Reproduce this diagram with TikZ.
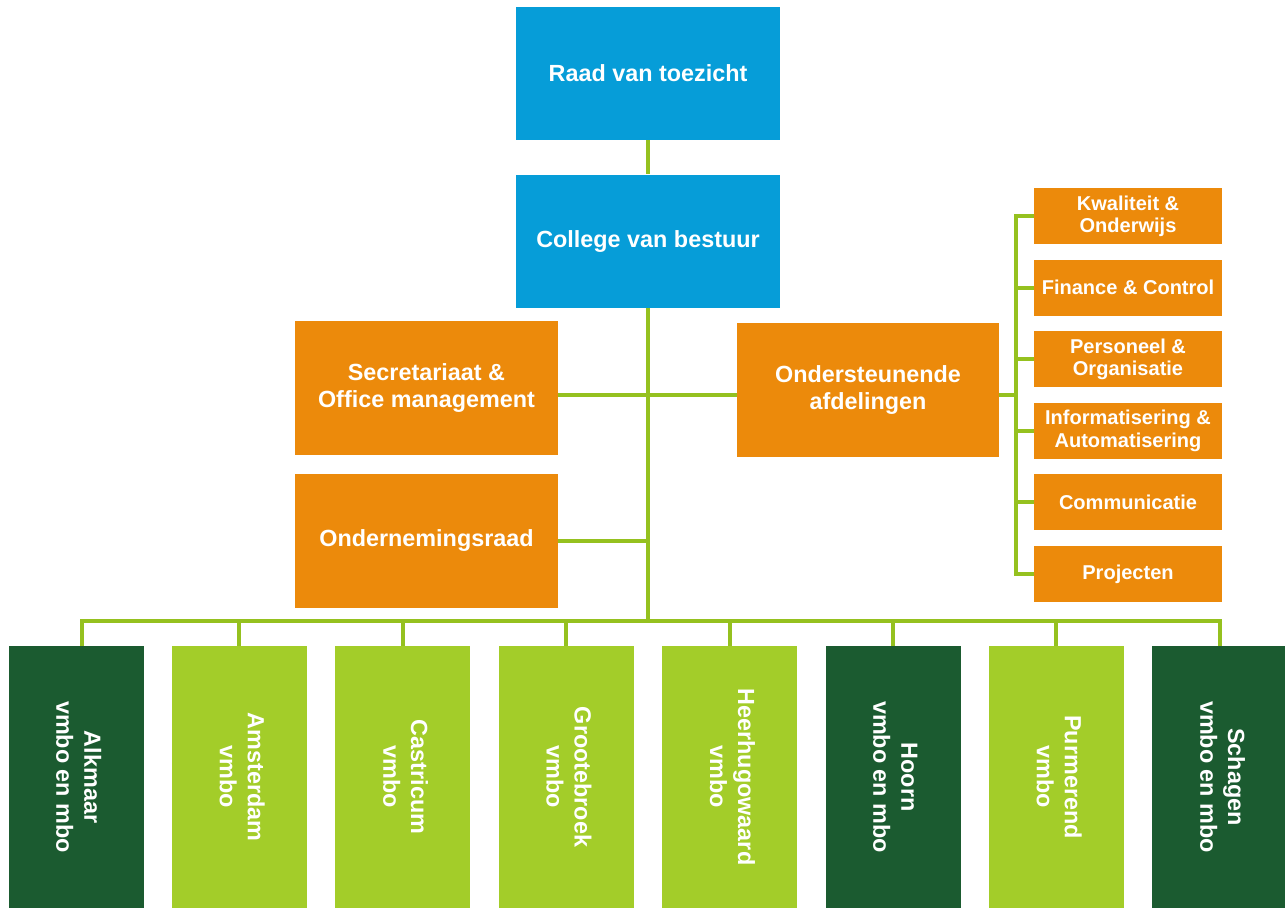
\documentclass[tikz,border=0pt]{standalone}
\usepackage{fontspec}
\setmainfont{Liberation Sans}
\usetikzlibrary{positioning}
\definecolor{raadblue}{HTML}{069DD8}
\definecolor{afdorange}{HTML}{EC8A0B}
\definecolor{vmbogreen}{HTML}{A3CD29}
\definecolor{mbogreen}{HTML}{1B5B30}
\definecolor{linegreen}{HTML}{95C11F}
\newcommand{\vtext}[1]{\rotatebox{-90}{\begin{tabular}{@{}c@{}}#1\end{tabular}}}

\begin{document}
\begin{tikzpicture}[font=\bfseries\fontsize{13.3}{15.9}\selectfont,text=white,
        bl/.style={fill=raadblue,minimum width=5.28cm,minimum height=2.66cm,align=center},
        or/.style={fill=afdorange,minimum width=5.26cm,minimum height=2.68cm,align=center},
        sm/.style={fill=afdorange,minimum width=3.76cm,minimum height=1.12cm,inner sep=1pt,align=center,
          font=\bfseries\fontsize{11.4}{12.6}\selectfont},
        lg/.style={fill=vmbogreen,minimum width=2.7cm,minimum height=5.24cm},
        dg/.style={fill=mbogreen,minimum width=2.7cm,minimum height=5.24cm},
        ln/.style={draw=linegreen,line width=2.3pt}]
        \useasboundingbox (0,0) rectangle (25.7,-18.16);
        % top
        \node[bl] (rvt) at (12.96,-1.47) {Raad van toezicht};
        \node[bl,below=0.68cm of rvt] (cvb) {College van bestuur};
        % staff
        \node[or] (som) at (8.53,-7.76) {Secretariaat \&\\Office management};
        \node[or,below=0.36cm of som] (onr) {Ondernemingsraad};
        \node[or,minimum width=5.24cm] (ond) at (17.36,-7.8) {Ondersteunende\\afdelingen};
        % afdelingen
        \node[sm] (kwo) at (22.56,-4.32) {Kwaliteit \&\\Onderwijs};
        \node[sm,below=0.298cm of kwo] (fc) {Finance \& Control};
        \node[sm,below=0.298cm of fc] (po) {Personeel \&\\Organisatie};
        \node[sm,below=0.298cm of po] (ia) {Informatisering \&\\Automatisering};
        \node[sm,below=0.298cm of ia] (com) {Communicatie};
        \node[sm,below=0.298cm of com] (prj) {Projecten};
        % scholen
        \node[dg] (alk) at (1.52,-15.54) {\vtext{Alkmaar\\vmbo en mbo}};
        \node[lg,right=0.554cm of alk] (ams) {\vtext{Amsterdam\\vmbo}};
        \node[lg,right=0.554cm of ams] (cas) {\vtext{Castricum\\vmbo}};
        \node[lg,right=0.554cm of cas] (grb) {\vtext{Grootebroek\\vmbo}};
        \node[lg,right=0.554cm of grb] (hhw) {\vtext{Heerhugowaard\\vmbo}};
        \node[dg,right=0.554cm of hhw] (hrn) {\vtext{Hoorn\\vmbo en mbo}};
        \node[lg,right=0.554cm of hrn] (pur) {\vtext{Purmerend\\vmbo}};
        \node[dg,right=0.554cm of pur] (sch) {\vtext{Schagen\\vmbo en mbo}};
        \coordinate (bus) at (12.96,-12.42);
        \coordinate (mid) at (12.96,-7.9);
        \draw[ln] (rvt) -- (cvb);
        \draw[ln] (cvb.south) -- (bus);
        \draw[ln] (mid -| som.east) -- (mid -| ond.west);
        \draw[ln] (onr.east) -- (onr.east -| bus);
        \draw[ln] ([xshift=0.12cm]alk.north) -- ++(0,0.5) -| (sch.north);
        \draw[ln] (ams.north) -- ++(0,0.5); \draw[ln] (cas.north) -- ++(0,0.5);
        \draw[ln] (grb.north) -- ++(0,0.5); \draw[ln] (hhw.north) -- ++(0,0.5);
        \draw[ln] (hrn.north) -- ++(0,0.5); \draw[ln] (pur.north) -- ++(0,0.5);
        \draw[ln] (kwo.west) -- ++(-0.36,0) |- (prj.west);
        \draw[ln] (fc.west) -- ++(-0.36,0); \draw[ln] (po.west) -- ++(-0.36,0);
        \draw[ln] (ia.west) -- ++(-0.36,0); \draw[ln] (com.west) -- ++(-0.36,0);
        \draw[ln] (mid -| ond.east) -- ++(0.34,0);
      \end{tikzpicture}
\end{document}
